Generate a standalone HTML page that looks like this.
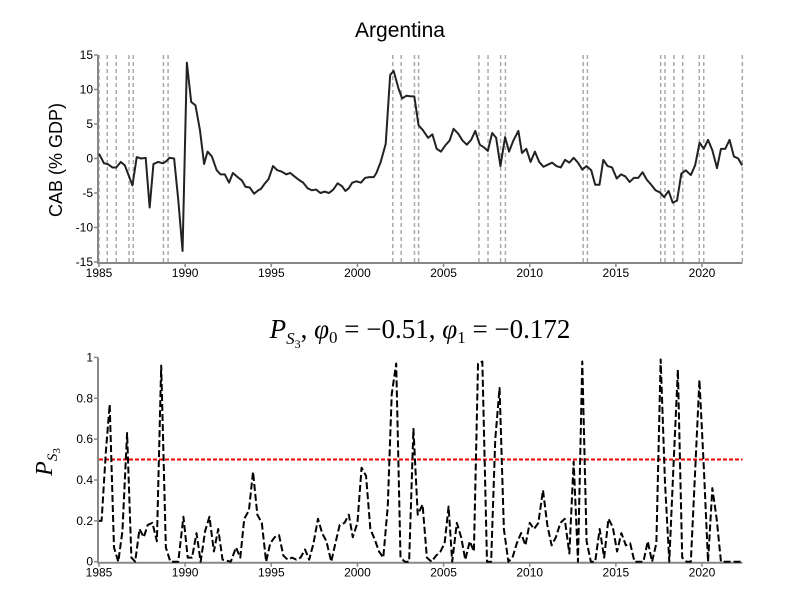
<!DOCTYPE html>
<html><head><meta charset="utf-8"><style>
body{margin:0;background:#fff;}
</style></head><body>
<svg id="chart" width="800" height="600" xmlns="http://www.w3.org/2000/svg" font-family="Liberation Sans, sans-serif">
<text x="400" y="37" font-size="21" text-anchor="middle">Argentina</text>
<text transform="translate(62,160) rotate(-90)" font-size="18" text-anchor="middle">CAB (% GDP)</text>
<text x="420" y="338" font-size="27" text-anchor="middle" style="font-family:'Liberation Serif',serif"><tspan font-style="italic">P</tspan><tspan font-style="italic" font-size="17" dy="6">S</tspan><tspan font-size="12" dy="4">3</tspan><tspan dy="-10">, </tspan><tspan font-style="italic">φ</tspan><tspan font-size="17" dy="5">0</tspan><tspan dy="-5"> = −0.51, </tspan><tspan font-style="italic">φ</tspan><tspan font-size="17" dy="5">1</tspan><tspan dy="-5"> = −0.172</tspan></text>
<text transform="translate(52,462) rotate(-90)" font-size="24" text-anchor="middle" style="font-family:'Liberation Serif',serif"><tspan font-style="italic">P</tspan><tspan font-style="italic" font-size="15" dy="5">S</tspan><tspan font-size="11" dy="3">3</tspan></text>
<g id="topg"></g><g id="botg"></g>
</svg>
<script>
const years=[1985,1990,1995,2000,2005,2010,2015,2020];
const cabTicks=[15,10,5,0,-5,-10,-15];
const pTicks=[1,0.8,0.6,0.4,0.2,0];
const pTickLabels=["1","0.8","0.6","0.4","0.2","0"];
const regimeYears=[1985.0,1985.48,1986.0,1986.74,1986.99,1988.74,1989.01,2002.05,2002.54,2003.31,2003.55,2007.05,2007.58,2008.31,2008.59,2013.1,2013.35,2017.6,2017.85,2018.37,2018.88,2019.84,2020.1,2022.34];
const cabX=[1985.0,1985.29,1985.5,1985.78,1986.0,1986.26,1986.5,1986.94,1987.19,1987.45,1987.71,1987.94,1988.16,1988.43,1988.71,1988.9,1989.09,1989.36,1989.6,1989.85,1990.1,1990.35,1990.6,1990.86,1991.1,1991.3,1991.55,1991.83,1992.05,1992.3,1992.55,1992.77,1993.05,1993.3,1993.5,1993.75,1994.0,1994.25,1994.4,1994.6,1994.84,1995.1,1995.35,1995.6,1995.87,1996.1,1996.35,1996.6,1996.85,1997.1,1997.35,1997.6,1997.85,1998.1,1998.35,1998.6,1998.85,1999.1,1999.3,1999.5,1999.7,1999.95,2000.2,2000.45,2000.7,2000.95,2001.1,2001.35,2001.64,2001.9,2002.1,2002.4,2002.6,2002.85,2003.1,2003.3,2003.55,2003.8,2004.1,2004.35,2004.6,2004.85,2005.1,2005.35,2005.58,2005.85,2006.1,2006.35,2006.6,2006.84,2007.1,2007.35,2007.57,2007.82,2008.05,2008.3,2008.57,2008.8,2009.05,2009.34,2009.55,2009.8,2010.05,2010.3,2010.55,2010.8,2011.05,2011.3,2011.55,2011.8,2012.05,2012.3,2012.55,2012.8,2013.05,2013.3,2013.57,2013.8,2014.05,2014.27,2014.52,2014.78,2015.05,2015.3,2015.55,2015.8,2016.05,2016.3,2016.55,2016.8,2017.05,2017.3,2017.55,2017.8,2018.06,2018.3,2018.55,2018.8,2019.05,2019.35,2019.6,2019.86,2020.1,2020.35,2020.6,2020.87,2021.1,2021.35,2021.6,2021.85,2022.1,2022.33];
const cabV=[0.7,-0.7,-0.8,-1.3,-1.3,-0.5,-1.0,-3.9,0.2,0,0.1,-7.1,-0.8,-0.5,-0.7,-0.4,0.1,0,-6,-13.4,13.9,8.2,7.7,4.1,-0.8,1.0,0.3,-1.7,-2.3,-2.3,-3.5,-2.1,-2.7,-3.2,-4.1,-4.2,-5.1,-4.6,-4.4,-3.7,-3.0,-1.1,-1.7,-1.9,-2.3,-2.1,-2.6,-3.1,-3.5,-4.3,-4.6,-4.5,-5.0,-4.8,-5.0,-4.5,-3.6,-4.0,-4.7,-4.3,-3.5,-3.3,-3.5,-2.8,-2.7,-2.7,-2.1,-0.5,2.1,12.1,12.7,10.0,8.7,9.1,9.0,9.0,4.8,4.1,3.0,3.5,1.4,1.0,1.9,2.6,4.3,3.6,2.6,2.0,2.7,4.0,2.0,1.6,1.1,3.7,3.0,-1.1,3.1,1.0,2.6,4.0,0.8,1.4,-0.5,1.0,-0.5,-1.2,-0.9,-0.6,-1.1,-1.3,-0.2,-0.6,0.1,-0.6,-1.6,-1.1,-1.7,-3.8,-3.8,-0.2,-1.1,-1.3,-2.9,-2.3,-2.6,-3.4,-2.8,-2.8,-2.0,-3.1,-3.8,-4.6,-4.9,-5.6,-4.7,-6.4,-6.1,-2.2,-1.7,-2.4,-1.0,2.3,1.4,2.7,1.2,-1.4,1.4,1.4,2.7,0.3,0,-1.0];
const pX=[1985.0,1985.15,1985.4,1985.62,1985.87,1986.12,1986.36,1986.63,1986.88,1987.1,1987.35,1987.6,1987.83,1988.1,1988.36,1988.61,1988.88,1989.14,1989.6,1989.9,1990.15,1990.4,1990.66,1990.9,1991.16,1991.41,1991.67,1991.92,1992.17,1992.65,1992.95,1993.2,1993.43,1993.7,1993.94,1994.19,1994.45,1994.7,1994.94,1995.2,1995.45,1995.7,1995.95,1996.2,1996.45,1996.7,1996.96,1997.2,1997.45,1997.71,1997.95,1998.2,1998.48,1998.72,1998.97,1999.25,1999.5,1999.73,2000.0,2000.24,2000.5,2000.75,2001.0,2001.25,2001.5,2001.76,2001.99,2002.25,2002.5,2002.75,2003.0,2003.25,2003.5,2003.78,2004.03,2004.3,2004.57,2004.82,2005.06,2005.29,2005.5,2005.77,2006.02,2006.26,2006.52,2006.76,2007.0,2007.25,2007.52,2007.76,2008.0,2008.25,2008.5,2008.76,2009.0,2009.25,2009.5,2009.75,2010.0,2010.25,2010.5,2010.77,2011.02,2011.27,2011.52,2011.78,2012.03,2012.3,2012.55,2012.8,2013.05,2013.3,2013.55,2013.8,2014.06,2014.32,2014.57,2014.82,2015.07,2015.32,2015.58,2015.83,2016.08,2016.6,2016.85,2017.1,2017.35,2017.6,2017.85,2018.1,2018.35,2018.6,2018.85,2019.1,2019.35,2019.6,2019.85,2020.1,2020.35,2020.6,2020.85,2021.1,2022.33];
const pV=[0.20,0.20,0.54,0.77,0.07,0.0,0.15,0.63,0.02,0.0,0.16,0.12,0.18,0.19,0.10,0.96,0.07,0,0,0.22,0.02,0.02,0.14,0,0.15,0.22,0.05,0.16,0.01,0,0.07,0.02,0.21,0.25,0.44,0.23,0.19,0,0.09,0.12,0.13,0.03,0.01,0.02,0.01,0.02,0.06,0.01,0.09,0.21,0.14,0.10,0,0.09,0.18,0.19,0.23,0.12,0.19,0.46,0.42,0.16,0.11,0.05,0.02,0.27,0.82,0.97,0.02,0,0,0.65,0.23,0.28,0.02,0,0.03,0.05,0.09,0.27,0,0.19,0.12,0.01,0.10,0.05,0.97,0.98,0,0,0.60,0.85,0.16,0,0.02,0.09,0.14,0.08,0.19,0.16,0.19,0.35,0.18,0.08,0.12,0.19,0.21,0.04,0.49,0,0.98,0.10,0,0,0.16,0.02,0.21,0.17,0.05,0.14,0.08,0.09,0,0,0.10,0,0.09,0.99,0.39,0,0.48,0.94,0.02,0,0,0.44,0.89,0.47,0,0.36,0.21,0,0];

const NS="http://www.w3.org/2000/svg";
const X0=99,X1=742.5,Y0=1985,Y1=2022.35;
function xs(y){return X0+(y-Y0)/(Y1-Y0)*(X1-X0);}
const yTop=v=>158.5-v*6.9;
const yBot=v=>561.7-v*204.3;
function mk(parent,tag,attrs){const e=document.createElementNS(NS,tag);for(const k in attrs)e.setAttribute(k,attrs[k]);parent.appendChild(e);return e;}
function axes(g,ys,ticks,labels,yb,yt,prefix){
  const ax=mk(g,'path',{d:`M${X0-1},${yt} V${yb+1} H${X1}`,stroke:'#888',fill:'none','stroke-width':2});
  
  
  ticks.forEach((t,i)=>{const y=ys(t);
    const l=mk(g,'line',{x1:X0-5,x2:X0-1,y1:y,y2:y,stroke:'#888','stroke-width':1.5});
    
    
    const tx=mk(g,'text',{x:X0-6,y:y+4,'font-size':12,'text-anchor':'end'});tx.textContent=labels[i];
    
    });
  years.forEach(yr=>{const x=xs(yr);
    const l=mk(g,'line',{x1:x,x2:x,y1:yb+1,y2:yb+5,stroke:'#888','stroke-width':1.5});
    
    
    const tx=mk(g,'text',{x:x,y:yb+15,'font-size':12,'text-anchor':'middle'});tx.textContent=yr;
    
    });
}
const topG=document.getElementById('topg'),botG=document.getElementById('botg');
regimeYears.forEach(r=>{const x=xs(r);
  const l=mk(topG,'line',{x1:x,x2:x,y1:55,y2:262,stroke:'#aaa','stroke-width':1.5,'stroke-dasharray':'4,3'});
  
  });
axes(topG,yTop,cabTicks,cabTicks.map(String),262,55,'top');
const cl=mk(topG,'polyline',{points:cabX.map((x,i)=>xs(x)+','+yTop(cabV[i])).join(' '),fill:'none',stroke:'#222','stroke-width':2,'stroke-linejoin':'round'});


axes(botG,yBot,pTicks,pTickLabels,561.7,357.4,'bottom');
const th=mk(botG,'line',{x1:X0,x2:X1,y1:yBot(0.5),y2:yBot(0.5),stroke:'#e00','stroke-width':2,'stroke-dasharray':'4,2'});


const pl=mk(botG,'polyline',{points:pX.map((x,i)=>xs(x)+','+yBot(pV[i])).join(' '),fill:'none',stroke:'#000','stroke-width':2,'stroke-dasharray':'7,3','stroke-linejoin':'round'});


</script>
</body></html>
